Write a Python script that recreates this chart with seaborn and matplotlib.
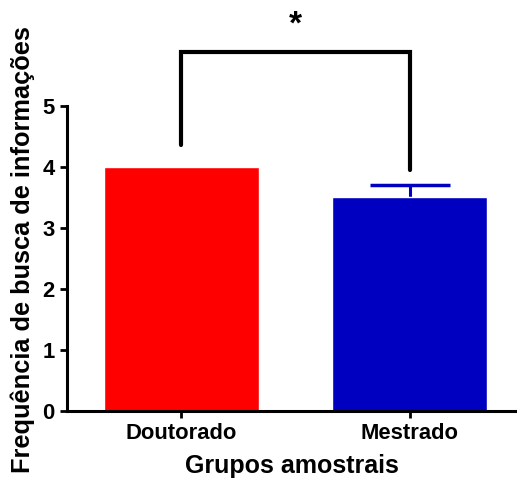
import numpy as np
import pandas as pd
import matplotlib
matplotlib.use("Agg")
import matplotlib.pyplot as plt
import seaborn as sns

sns.set_style("ticks")
plt.rcParams['font.family'] = ['Liberation Sans', 'DejaVu Sans']
plt.rcParams['font.weight'] = 'bold'
plt.rcParams['text.color'] = 'black'
plt.rcParams['axes.labelcolor'] = 'black'
plt.rcParams['xtick.color'] = 'black'
plt.rcParams['ytick.color'] = 'black'
plt.rcParams['axes.edgecolor'] = 'black'

# data
groups = ["Doutorado", "Mestrado"]
means = [4.0, 3.5]
sem = [0.0, 0.21]
colors = ["#FF0000", "#0000C0"]

# significance bracket (y positions in data units)
bracket_top = 5.88
bracket_left_end = 4.36
bracket_right_end = 3.95
star_label = "*"

df = pd.DataFrame({"grupo": groups, "freq": means})

fig = plt.figure(figsize=(5.17, 4.79), dpi=100)
ax = fig.add_axes([0.13, 0.142, 0.87, 0.637])

sns.barplot(data=df, x="grupo", y="freq", hue="grupo", palette=colors,
            width=0.68, saturation=1, legend=False, ax=ax, zorder=2)

# only Mestrado has a visible error bar; lower half hidden behind the bar
ax.errorbar([1], [means[1]], yerr=[sem[1]], fmt="none", zorder=1,
            ecolor=colors[1], elinewidth=2.2, capsize=29, capthick=2.5)

ax.set_ylim(0, 5)
ax.set_xlim(-0.5, 1.47)
ax.set_yticks([0, 1, 2, 3, 4, 5])

ax.plot([0, 0, 1, 1], [bracket_left_end, bracket_top, bracket_top, bracket_right_end],
        color="black", lw=3, clip_on=False, solid_joinstyle="miter")
ax.text(0.5, bracket_top + 0.45, star_label, ha="center", va="center",
        fontsize=24, fontweight="bold", clip_on=False)

sns.despine(ax=ax)
for s in ["left", "bottom"]:
    ax.spines[s].set_linewidth(2.2)
ax.tick_params(axis="both", width=2, length=5, labelsize=15.8, pad=4)
for lab in ax.get_xticklabels() + ax.get_yticklabels():
    lab.set_fontweight("bold")

ax.set_xlabel("Grupos amostrais", fontsize=18, fontweight="bold", labelpad=7)
ax.set_ylabel("Frequência de busca de informações", fontsize=18.3, fontweight="bold")
ax.yaxis.set_label_coords(-0.072, 0.53)

fig.savefig("out.png", dpi=100)
